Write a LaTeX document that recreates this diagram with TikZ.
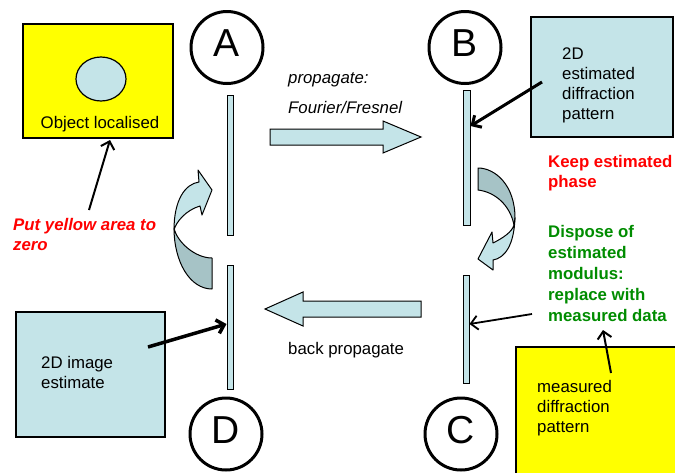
\documentclass[tikz,border=0pt]{standalone}
\usepackage{fontspec}
\setmainfont{Liberation Sans}
\usetikzlibrary{arrows.meta,shapes.geometric}
\definecolor{lb}{RGB}{196,228,232}
\definecolor{db}{RGB}{166,195,198}
\definecolor{ylw}{RGB}{255,255,0}
\definecolor{grn}{RGB}{0,140,0}
\definecolor{rd}{RGB}{255,0,0}
\begin{document}
\begin{tikzpicture}[x=1pt,y=-1pt,
  txt/.style={font=\fontsize{16.8}{20}\selectfont, inner sep=0pt, align=left, anchor=base west},
  letter/.style={circle, draw, line width=3pt, minimum size=72pt, inner sep=0pt,
     font=\fontsize{39}{39}\selectfont, text height=28pt, text depth=10pt},
  bar/.style={draw, fill=lb, line width=1pt, minimum width=6pt, inner sep=0pt},
  box/.style={draw, line width=1.2pt, inner sep=0pt},
  pointer/.style={line width=2.5pt, -{Straight Barb[length=7pt,width=14pt]}},
  blockarrow/.style={draw, fill=lb, line width=1pt, line join=miter},
  curvearrow/.style={draw, line width=1pt, line join=round}]
\useasboundingbox (0,0) rectangle (675,472);

% circles
\node[letter] (A) at (227,47.5) {A};
\node[letter] (B) at (465,47.5) {B};
\node[letter] (C) at (461,434) {C};
\node[letter] (D) at (226,434) {D};

% bars
\node[bar, minimum height=140pt] (barA) at (230,165) {};
\node[bar, minimum height=124pt] (barD) at (230,327) {};
\node[bar, minimum height=135pt, minimum width=7pt] (barB) at (466.5,157.5) {};
\node[bar, minimum height=108pt] (barC) at (466,329) {};

% block arrows
\draw[blockarrow] (270,129) -- (383,129) -- (383,121) -- (421,137) -- (383,153) -- (383,145) -- (270,145) -- cycle;
\draw[blockarrow] (421,301) -- (303,301) -- (303,292) -- (265,309) -- (303,326) -- (303,317) -- (421,317) -- cycle;

% curved arrows left
\draw[curvearrow, fill=db] (212,258) -- (212,289) .. controls (190,289) and (174,262) .. (174,228)
   .. controls (177,242) and (195,258) .. (212,258) -- cycle;
\draw[curvearrow, fill=lb] (174,230) .. controls (174,200) and (185,184) .. (199,182) -- (198,170) -- (212,190)
   -- (202,215) -- (200,206) .. controls (186,210) and (176,222) .. (174,230) -- cycle;
% curved arrow right
\draw[curvearrow, fill=db] (478,168) .. controls (495,168) and (515,185) .. (515,218) -- (514,225)
   .. controls (510,205) and (495,192) .. (478,190) -- cycle;
\draw[curvearrow, fill=lb] (515,218) .. controls (514,245) and (505,258) .. (493,260) -- (493,270) -- (478,259)
   -- (492,232) -- (493,243) .. controls (503,238) and (512,232) .. (514,225) -- cycle;

% boxes
\node[box, fill=ylw, minimum width=150pt, minimum height=114pt] (obj) at (98,81) {};
\node[ellipse, draw, line width=1.2pt, fill=lb, minimum width=50pt, minimum height=44pt, inner sep=0pt] (ell) at (101,79) {};
\node[txt, anchor=base] (objt) at (100,128) {Object localised};
\node[box, fill=lb, minimum width=142pt, minimum height=120pt] (est) at (602,77) {};
\node[box, fill=lb, minimum width=149pt, minimum height=125pt] (img) at (90.5,374.5) {};
\node[box, fill=ylw, minimum width=164pt, minimum height=133pt] (meas) at (598,413.5) {};

% texts (anchor base west = baseline of the last line)
\node[txt, font=\fontsize{16.8}{20}\selectfont\itshape] (prop) at (288,83) {propagate:};
\node[txt, font=\fontsize{16.8}{20}\selectfont\itshape] (four) at (288,113) {Fourier/Fresnel};
\node[txt] (back) at (288,354) {back propagate};
\node[txt, text=rd, font=\fontsize{16.8}{20}\selectfont\bfseries\itshape] (put) at (13,250) {Put yellow area to\\zero};
\node[txt, text=rd, font=\fontsize{16.8}{20}\selectfont\bfseries] (keep) at (548,187) {Keep estimated\\phase};
\node[txt, text=grn, font=\fontsize{16.8}{21}\selectfont\bfseries] (disp) at (548,321) {Dispose of\\estimated\\modulus:\\replace with\\measured data};
\node[txt, font=\fontsize{16.8}{19.7}\selectfont] (estt) at (562,119) {2D\\estimated\\diffraction\\pattern};
\node[txt] (meast) at (537,432) {measured\\diffraction\\pattern};
\node[txt] (imgt) at (41,388) {2D image\\estimate};

% pointers
\coordinate (p1s) at (89,210);
\coordinate (p1e) at (110,140);
\draw[pointer, line width=2pt] (p1s) -- (p1e);
\coordinate (p2s) at (542,82);
\coordinate (p2e) at (barB.east |- 0,126);
\draw[pointer, line width=3pt] (p2s) -- (p2e);
\coordinate (p3s) at (532,314);
\coordinate (p3e) at (barC.east |- 0,324);
\draw[pointer, line width=1.8pt] (p3s) -- (p3e);
\coordinate (p4s) at (611,373);
\coordinate (p4e) at (603,330);
\draw[pointer, line width=2pt] (p4s) -- (p4e);
\coordinate (p5s) at (148,347);
\coordinate (p5e) at (barD.west |- 0,324);
\draw[pointer, line width=3.5pt] (p5s) -- (p5e);
\end{tikzpicture}
\end{document}
